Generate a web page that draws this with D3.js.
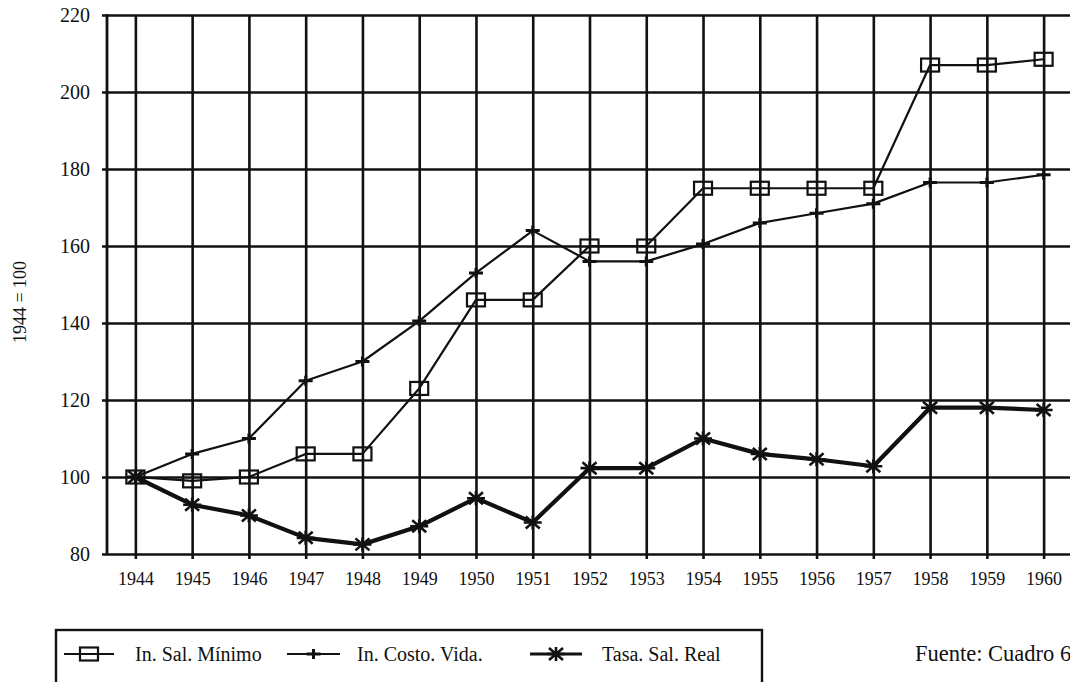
<!DOCTYPE html>
<html>
<head>
<meta charset="utf-8">
<script src="https://cdn.jsdelivr.net/npm/d3@7"></script>
<style>
  html, body { margin: 0; padding: 0; background: #fff; overflow: hidden; }
  svg text { font-family: "Liberation Serif", "Times New Roman", serif; fill: #111; }
</style>
</head>
<body>
<svg id="chart" width="1070" height="682"></svg>
<script>
const years = [1944,1945,1946,1947,1948,1949,1950,1951,1952,1953,1954,1955,1956,1957,1958,1959,1960];
const salMinimo = [100, 99, 100, 106, 106, 123, 146, 146, 160, 160, 175, 175, 175, 175, 207, 207, 208.5];
const costoVida = [100, 106, 110, 125, 130, 140.5, 153, 164, 156, 156, 160.5, 166, 168.5, 171, 176.5, 176.5, 178.5];
const tasaReal = [100, 92.8, 90, 84.2, 82.5, 87.2, 94.5, 88.2, 102.3, 102.3, 110, 106, 104.6, 102.8, 118, 118, 117.4];
const yTicks = [80, 100, 120, 140, 160, 180, 200, 220];
const seriesNames = ["In. Sal. Mínimo", "In. Costo. Vida.", "Tasa. Sal. Real"];
const yTitle = "1944 = 100";
const sourceNote = "Fuente: Cuadro 6";

const svg = d3.select("#chart");
const ink = "#111";

const x = d3.scalePoint().domain(years).range([107, 1072]).padding(0.5);
const y = d3.scaleLinear().domain([80, 220]).range([554, 15]);

// horizontal grid + y axis
const yAxis = d3.axisLeft(y).tickValues(yTicks).tickSize(-(1072 - 107)).tickPadding(14).tickFormat(d3.format("d"));
const gy = svg.append("g").attr("transform", "translate(107,0)").call(yAxis);
gy.select(".domain").remove();
gy.selectAll(".tick line").attr("stroke", ink).attr("stroke-width", 2.6).attr("x1", -5);
gy.selectAll(".tick text").attr("font-size", 20).attr("x", -17).attr("dy", "0.34em").style("font-family", "'Liberation Serif', serif");

// vertical grid + x axis
const xAxis = d3.axisBottom(x).tickValues(years).tickSize(-(554 - 15)).tickPadding(0).tickFormat(d3.format("d"));
const gx = svg.append("g").attr("transform", "translate(0,554)").call(xAxis);
gx.select(".domain").remove();
gx.selectAll(".tick line").attr("stroke", ink).attr("stroke-width", 2.6).attr("y1", 5);
gx.selectAll(".tick text").attr("font-size", 18).attr("y", 31).attr("dy", 0).style("font-family", "'Liberation Serif', serif");

// left axis line
svg.append("line").attr("x1", 107).attr("x2", 107).attr("y1", y(220) - 1).attr("y2", y(80) + 1)
  .attr("stroke", ink).attr("stroke-width", 2.8);

// y title
svg.append("text").attr("transform", "translate(26,302) rotate(-90)")
  .attr("text-anchor", "middle").attr("font-size", 18).text(yTitle);

const line = d3.line().x((d, i) => x(years[i])).y(d => y(d));

// markers
function squareMarker(g, cx, cy) {
  g.append("rect").attr("x", cx - 9).attr("y", cy - 6.5).attr("width", 18).attr("height", 13)
    .attr("fill", "none").attr("stroke", ink).attr("stroke-width", 2.2);
}
function plusMarker(g, cx, cy) {
  g.append("path").attr("d", `M${cx-7},${cy}H${cx+7}M${cx},${cy-5}V${cy+5}`)
    .attr("stroke", ink).attr("stroke-width", 3).attr("fill", "none");
}
function starMarker(g, cx, cy) {
  g.append("path").attr("d",
    `M${cx-9},${cy}H${cx+9}M${cx-7},${cy-6}L${cx+7},${cy+6}M${cx-7},${cy+6}L${cx+7},${cy-6}M${cx},${cy-7}V${cy+7}`)
    .attr("stroke", ink).attr("stroke-width", 2.6).attr("fill", "none");
}

const series = [
  { name: seriesNames[0], values: salMinimo, width: 2.2, marker: squareMarker },
  { name: seriesNames[1], values: costoVida, width: 2.2, marker: plusMarker },
  { name: seriesNames[2], values: tasaReal, width: 4.2, marker: starMarker }
];

series.forEach(s => {
  const g = svg.append("g");
  g.append("path").datum(s.values).attr("d", line)
    .attr("fill", "none").attr("stroke", ink).attr("stroke-width", s.width).attr("stroke-linejoin", "round");
  s.values.forEach((v, i) => s.marker(g, x(years[i]), y(v)));
});

// legend
const lg = svg.append("g");
lg.append("rect").attr("x", 56).attr("y", 630).attr("width", 706).attr("height", 90)
  .attr("fill", "none").attr("stroke", ink).attr("stroke-width", 2.4);
const legendPos = [
  { x0: 64, x1: 114, tx: 135 },
  { x0: 287, x1: 340, tx: 357 },
  { x0: 530, x1: 582, tx: 602 }
];
series.forEach((s, i) => {
  const p = legendPos[i];
  const ly = 654;
  lg.append("line").attr("x1", p.x0).attr("x2", p.x1).attr("y1", ly).attr("y2", ly)
    .attr("stroke", ink).attr("stroke-width", i === 2 ? 3 : 2.2);
  s.marker(lg, (p.x0 + p.x1) / 2, ly);
  lg.append("text").attr("x", p.tx).attr("y", 661).attr("font-size", 20).text(s.name);
});

svg.append("text").attr("x", 915).attr("y", 661).attr("font-size", 22.5).text(sourceNote);
</script>
</body>
</html>
